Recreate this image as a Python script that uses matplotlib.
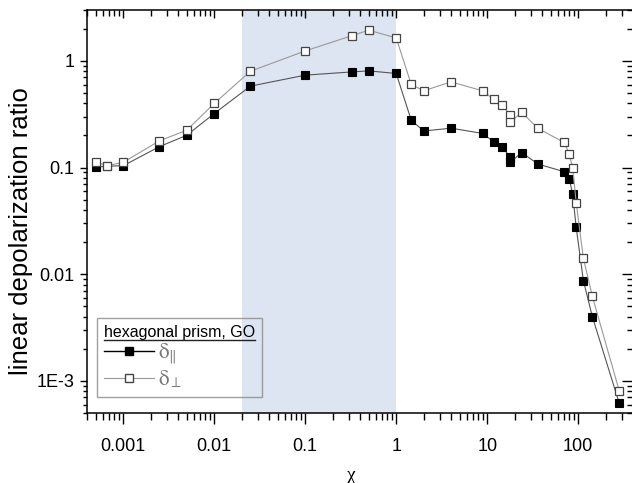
import matplotlib
matplotlib.use("Agg")
import matplotlib.pyplot as plt
from matplotlib.lines import Line2D
from matplotlib.ticker import FixedLocator, FixedFormatter, LogLocator, NullFormatter

# ---- data ----
chi = [5e-4, 6.7e-4, 0.001, 0.0025, 0.005, 0.01, 0.025, 0.1, 0.33, 0.5, 1.0,
       1.46, 2.0, 4.0, 8.9, 11.8, 14.5, 18.0, 18.0, 24.0, 36.0,
       70.0, 80.0, 87.0, 95.0, 114.0, 143.0, 282.0]
delta_par = [0.101, 0.103, 0.104, 0.157, 0.201, 0.321, 0.58, 0.735, 0.789, 0.806, 0.762,
             0.279, 0.22, 0.234, 0.209, 0.174, 0.155, 0.126, 0.113, 0.138, 0.108,
             0.0914, 0.0775, 0.056, 0.0275, 0.0087, 0.0040, 6.2e-4]
delta_perp = [0.113, 0.104, 0.112, 0.178, 0.224, 0.399, 0.80, 1.24, 1.73, 1.94, 1.64,
              0.605, 0.524, 0.636, 0.524, 0.435, 0.385, 0.31, 0.268, 0.329, 0.233,
              0.172, 0.134, 0.098, 0.047, 0.0141, 0.0062, 8.1e-4]
shade_range = [0.02, 1.0]
xticks = [0.001, 0.01, 0.1, 1, 10, 100]
xticklabels = ["0.001", "0.01", "0.1", "1", "10", "100"]
yticks = [0.001, 0.01, 0.1, 1]
yticklabels = ["1E-3", "0.01", "0.1", "1"]
legend_title = "hexagonal prism, GO"
labels = [r"$\mathrm{\delta}_{\Vert}$", r"$\mathrm{\delta}_{\perp}$"]

plt.rcParams["font.family"] = ["Liberation Sans", "DejaVu Sans"]
plt.rcParams["mathtext.fontset"] = "stix"

fig = plt.figure(figsize=(6.32, 4.83), dpi=100)
ax = fig.add_axes([87/632, 1 - 413/483, 546/632, 403/483])
xlim = (4.0e-4, 400)
ylim = (5.0e-4, 3.0)

ax.axvspan(shade_range[0], shade_range[1], color="#dce5f1", lw=0, zorder=0)

l1, = ax.plot(chi, delta_par, color="#555555", lw=0.8, marker="s", ms=5.5,
              mfc="black", mec="black", mew=0.8, zorder=3)
l2, = ax.plot(chi, delta_perp, color="#999999", lw=0.8, marker="s", ms=5.5,
              mfc="white", mec="#444444", mew=0.9, zorder=4)

ax.set_xscale("log")
ax.set_yscale("log")
ax.set_xlim(*xlim)
ax.set_ylim(*ylim)

ax.xaxis.set_major_locator(FixedLocator(xticks))
ax.xaxis.set_major_formatter(FixedFormatter(xticklabels))
ax.yaxis.set_major_locator(FixedLocator(yticks))
ax.yaxis.set_major_formatter(FixedFormatter(yticklabels))
for a in (ax.xaxis, ax.yaxis):
    a.set_minor_locator(LogLocator(base=10, subs=range(2, 10), numticks=20))
    a.set_minor_formatter(NullFormatter())

for s in ax.spines.values():
    s.set_linewidth(1.1)
ax.spines["right"].set_visible(False)

# top ticks (inward)
axt = ax.twiny()
axt.set_xscale("log")
axt.set_xlim(*xlim)
axt.xaxis.set_major_locator(FixedLocator(xticks))
axt.xaxis.set_minor_locator(LogLocator(base=10, subs=range(2, 10), numticks=20))
axt.xaxis.set_minor_formatter(NullFormatter())
axt.tick_params(axis="x", which="major", direction="in", length=6, width=1, labeltop=False)
axt.tick_params(axis="x", which="minor", direction="in", length=4, width=1)
for s in axt.spines.values():
    s.set_visible(False)

# right ticks (inward)
axr = ax.twinx()
axr.set_yscale("log")
axr.set_ylim(*ylim)
axr.yaxis.set_major_locator(FixedLocator(yticks))
axr.yaxis.set_minor_locator(LogLocator(base=10, subs=range(2, 10), numticks=20))
axr.yaxis.set_minor_formatter(NullFormatter())
axr.tick_params(axis="y", which="major", direction="in", length=8, width=1, labelright=False)
axr.tick_params(axis="y", which="minor", direction="in", length=4, width=1)
for s in axr.spines.values():
    s.set_visible(False)

ax.tick_params(axis="x", which="major", direction="out", length=8, width=1, labelsize=13, pad=10)
ax.tick_params(axis="x", which="minor", direction="out", length=5, width=1)
ax.tick_params(axis="y", which="major", direction="out", length=5, width=1, labelsize=13, pad=4)
ax.tick_params(axis="y", which="minor", direction="out", length=3, width=1)

ax.set_ylabel("linear depolarization ratio", fontsize=18.5, labelpad=8)
ax.yaxis.set_label_coords(-0.099, 0.452)
ax.set_xlabel("\u03c7", fontsize=14, family=["Liberation Serif", "DejaVu Serif"], labelpad=6)
ax.xaxis.set_label_coords(0.485, -0.135)

h1 = Line2D([], [], color="black", lw=1.0, marker="s", ms=6, mfc="black", mec="black")
h2 = Line2D([], [], color="#999999", lw=0.8, marker="s", ms=6, mfc="white", mec="#444444")
leg = axr.legend([h1, h2], labels, title=legend_title, loc="lower left",
                 bbox_to_anchor=(0.0178, 0.0397), frameon=True, fancybox=False,
                 edgecolor="#888888", facecolor="none", framealpha=None,
                 fontsize=15, title_fontsize=11.5, handlelength=2.4, handletextpad=0.2,
                 labelspacing=0.05, borderpad=0.35, borderaxespad=0, alignment="left")
leg.get_frame().set_linewidth(1.0)
for t in leg.get_texts():
    t.set_color("#777777")

fig.canvas.draw()
r = fig.canvas.get_renderer()
bb = leg.get_title().get_window_extent(r)
inv = fig.transFigure.inverted()
(x0, y0), (x1, y1) = inv.transform([(bb.x0, bb.y0), (bb.x1, bb.y1)])
fig.add_artist(Line2D([x0, x1], [y0 + 0.001, y0 + 0.001], color="#222222", lw=1.0,
                      transform=fig.transFigure))

fig.savefig("out.png", dpi=100)
